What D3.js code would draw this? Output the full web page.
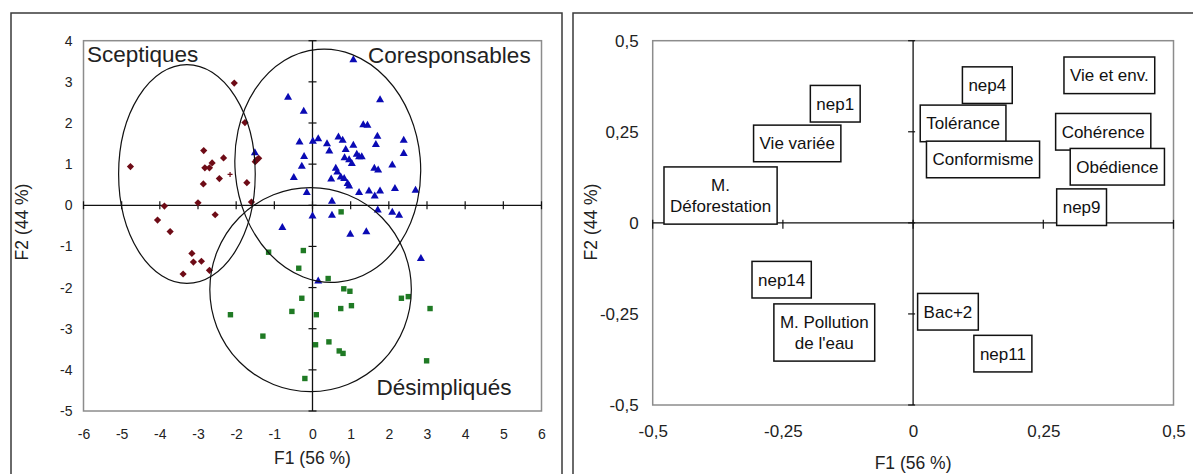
<!DOCTYPE html>
<html>
<head>
<meta charset="utf-8">
<script src="https://cdn.jsdelivr.net/npm/d3@7"></script>
<style>
  body { margin: 0; background: #fff; }
  svg { display: block; font-family: "Liberation Sans", Arial, sans-serif; }
</style>
</head>
<body>
<svg id="chart" width="1193" height="474"></svg>
<script>
// ---- left panel: individuals on F1/F2 ----
const sceptiques = [[-2.05,2.97],[-1.77,2.01],[-4.77,0.94],[-2.85,1.33],[-2.33,1.15],[-2.63,1.03],
  [-2.82,0.91],[-2.70,0.91],[-2.44,0.65],[-2.86,0.52],[-1.72,0.55],[-1.50,1.06],[-1.47,1.10],
  [-1.41,1.14],[-3.00,0.06],[-3.88,-0.02],[-1.60,0.08],[-2.55,-0.23],[-4.06,-0.36],[-3.73,-0.64],
  [-3.16,-1.17],[-3.12,-1.38],[-2.91,-1.36],[-3.39,-1.67],[-2.70,-1.58]];
const sceptiquesSmall = [[-2.16,0.75]];

const coresponsables = [[1.07,3.55],[-0.64,2.64],[1.77,2.58],[-0.23,2.30],[1.33,1.97],[1.44,1.96],
  [-0.34,1.55],[0.01,1.57],[0.15,1.63],[0.38,1.51],[0.44,1.33],[0.68,1.67],[0.79,1.59],[1.07,1.47],
  [0.87,1.37],[1.70,1.69],[1.66,1.49],[2.39,1.59],[2.39,1.27],[-0.22,1.20],[-0.28,0.96],[0.84,1.17],
  [0.96,1.12],[1.16,1.25],[1.22,1.19],[1.29,1.19],[1.03,1.03],[0.61,0.91],[0.65,0.82],[1.62,0.91],
  [1.72,0.87],[2.09,0.99],[-0.49,0.69],[0.49,0.65],[0.74,0.70],[0.83,0.66],[0.92,0.54],[0.96,0.48],
  [-0.15,0.32],[1.22,0.32],[1.48,0.36],[1.63,0.24],[1.77,0.36],[2.16,0.42],[2.70,0.38],[0.51,0.11],
  [1.71,-0.10],[2.09,-0.16],[2.27,-0.23],[0.00,-0.25],[0.51,-0.23],[-0.79,-0.53],[0.99,-0.69],
  [1.41,-0.63],[2.84,-1.28],[0.15,-1.83],[-1.51,1.29]];

const desimpliques = [[0.75,-0.16],[-1.15,-1.14],[-0.24,-1.10],[-0.36,-1.53],[0.41,-1.78],[0.82,-2.03],
  [0.98,-2.09],[-0.28,-2.26],[-0.54,-2.58],[-2.15,-2.66],[0.10,-2.66],[0.74,-2.51],[1.02,-2.44],
  [2.33,-2.26],[2.51,-2.22],[3.08,-2.51],[-1.30,-3.18],[0.08,-3.39],[0.43,-3.32],[0.70,-3.54],
  [0.80,-3.60],[2.99,-3.78],[-0.20,-4.21]];

// ellipses: centre x, centre y, half-width, half-height (data units), tilt in degrees
const ellipses = [[-3.29,0.76,1.79,2.66,0],[0.40,0.96,2.43,2.84,-5],[-0.05,-2.05,2.64,2.48,0]];
const groupNames = ["Sceptiques","Coresponsables","Désimpliqués"];
const groupLabelAt = [[-5.91,3.48],[1.455,3.46],[1.675,-4.61]];

const leftXTicks = d3.range(-6, 7);
const leftYTicks = d3.range(-5, 5);

// ---- right panel: variables ----
const varNames = ["nep1","Vie variée","M.\nDéforestation","nep4","Tolérance","Conformisme",
  "Vie et env.","Cohérence","Obédience","nep9","nep14","M. Pollution\nde l'eau","Bac+2","nep11"];
const varF1 = [-0.205,-0.314,-0.486,0.087,0.006,0.018,0.282,0.266,0.294,0.268,-0.317,-0.275,0.001,0.109];
const varF2 = [0.327,0.218,0.075,0.378,0.273,0.174,0.405,0.250,0.154,0.043,-0.156,-0.301,-0.244,-0.359];

const rightTicks = [-0.5,-0.25,0,0.25,0.5];
const axisTitleX = "F1 (56 %)";
const axisTitleY = "F2 (44 %)";

const svg = d3.select("#chart");

// panel frames
svg.append("rect").attr("x", 11).attr("y", 13).attr("width", 551).attr("height", 480)
   .attr("fill", "none").attr("stroke", "#3a3a3a").attr("stroke-width", 1.5);
svg.append("rect").attr("x", 573).attr("y", 13).attr("width", 640).attr("height", 480)
   .attr("fill", "none").attr("stroke", "#3a3a3a").attr("stroke-width", 1.5);

function styleAxis(g, size) {
  g.select(".domain").remove();
  g.selectAll("text").attr("font-family", "Liberation Sans, Arial, sans-serif")
   .attr("font-size", size).attr("fill", "#222");
}

// ================= LEFT =================
const xL = d3.scaleLinear().domain([-6, 6]).range([83.5, 541.5]);
const yL = d3.scaleLinear().domain([-5, 4]).range([411, 40.7]);

svg.append("rect").attr("x", xL(-6)).attr("y", yL(4))
   .attr("width", xL(6) - xL(-6)).attr("height", yL(-5) - yL(4))
   .attr("fill", "#fff").attr("stroke", "#8c8c8c").attr("stroke-width", 1.5);

// tick labels
svg.append("g").attr("transform", `translate(0,${yL(-5)})`)
   .call(d3.axisBottom(xL).tickValues(leftXTicks).tickSize(0).tickPadding(18).tickFormat(d => String(d)))
   .call(g => styleAxis(g, 14));
svg.append("g").attr("transform", `translate(${xL(-6)},0)`)
   .call(d3.axisLeft(yL).tickValues(leftYTicks).tickSize(0).tickPadding(11).tickFormat(d => String(d)))
   .call(g => styleAxis(g, 14));

// axis lines through origin with crossing ticks
svg.append("line").attr("x1", xL(-6)).attr("x2", xL(6)).attr("y1", yL(0)).attr("y2", yL(0))
   .attr("stroke", "#111").attr("stroke-width", 1.3);
svg.append("line").attr("x1", xL(0)).attr("x2", xL(0)).attr("y1", yL(4)).attr("y2", yL(-5))
   .attr("stroke", "#111").attr("stroke-width", 1.3);
svg.append("g").selectAll("line").data(leftXTicks).join("line")
   .attr("x1", d => xL(d)).attr("x2", d => xL(d)).attr("y1", yL(0) - 4).attr("y2", yL(0) + 4)
   .attr("stroke", "#111").attr("stroke-width", 1.2);
svg.append("g").selectAll("line").data(leftYTicks).join("line")
   .attr("y1", d => yL(d)).attr("y2", d => yL(d)).attr("x1", xL(0) - 4).attr("x2", xL(0) + 4)
   .attr("stroke", "#111").attr("stroke-width", 1.2);

// points
svg.append("g").selectAll("path").data(sceptiques).join("path")
   .attr("transform", d => `translate(${xL(d[0])},${yL(d[1])})`)
   .attr("d", "M0,-3.6L3.6,0L0,3.6L-3.6,0Z").attr("fill", "#6e0b16");
svg.append("g").selectAll("path").data(sceptiquesSmall).join("path")
   .attr("transform", d => `translate(${xL(d[0])},${yL(d[1])})`)
   .attr("d", "M-2.5,0H2.5M0,-2.5V2.5").attr("stroke", "#6e0b16").attr("stroke-width", 1.2);
svg.append("g").selectAll("path").data(coresponsables).join("path")
   .attr("transform", d => `translate(${xL(d[0])},${yL(d[1])})`)
   .attr("d", "M0,-4L4,3L-4,3Z").attr("fill", "#0a0ab4");
svg.append("g").selectAll("rect").data(desimpliques).join("rect")
   .attr("x", d => xL(d[0]) - 2.7).attr("y", d => yL(d[1]) - 2.7)
   .attr("width", 5.4).attr("height", 5.4).attr("fill", "#1f7a24");

// ellipses
const kx = xL(1) - xL(0), ky = yL(0) - yL(1);
svg.append("g").selectAll("ellipse").data(ellipses).join("ellipse")
   .attr("transform", d => `translate(${xL(d[0])},${yL(d[1])}) rotate(${d[4]})`)
   .attr("rx", d => d[2] * kx).attr("ry", d => d[3] * ky)
   .attr("fill", "none").attr("stroke", "#111").attr("stroke-width", 1.2);

// group names
svg.append("g").selectAll("text").data(groupNames).join("text")
   .attr("x", (d, i) => xL(groupLabelAt[i][0])).attr("y", (d, i) => yL(groupLabelAt[i][1]))
   .attr("font-size", 22.5).attr("fill", "#222").text(d => d);

// axis titles
svg.append("text").attr("x", xL(0)).attr("y", 464).attr("text-anchor", "middle")
   .attr("font-size", 17.5).attr("fill", "#222").text(axisTitleX);
svg.append("text").attr("transform", `translate(28,222) rotate(-90)`).attr("text-anchor", "middle")
   .attr("font-size", 17.5).attr("fill", "#222").text(axisTitleY);

// ================= RIGHT =================
const xR = d3.scaleLinear().domain([-0.5, 0.5]).range([652.7, 1173.5]);
const yR = d3.scaleLinear().domain([-0.5, 0.5]).range([405, 40.7]);
const comma = d => String(d).replace(".", ",");

svg.append("rect").attr("x", xR(-0.5)).attr("y", yR(0.5))
   .attr("width", xR(0.5) - xR(-0.5)).attr("height", yR(-0.5) - yR(0.5))
   .attr("fill", "#fff").attr("stroke", "#8c8c8c").attr("stroke-width", 1.5);

svg.append("g").attr("transform", `translate(0,${yR(-0.5)})`)
   .call(d3.axisBottom(xR).tickValues(rightTicks).tickSize(0).tickPadding(20).tickFormat(comma))
   .call(g => styleAxis(g, 17));
svg.append("g").attr("transform", `translate(${xR(-0.5)},0)`)
   .call(d3.axisLeft(yR).tickValues(rightTicks).tickSize(0).tickPadding(14).tickFormat(comma))
   .call(g => styleAxis(g, 17));

svg.append("line").attr("x1", xR(-0.5)).attr("x2", xR(0.5)).attr("y1", yR(0)).attr("y2", yR(0))
   .attr("stroke", "#111").attr("stroke-width", 1.3);
svg.append("line").attr("x1", xR(0)).attr("x2", xR(0)).attr("y1", yR(0.5)).attr("y2", yR(-0.5))
   .attr("stroke", "#111").attr("stroke-width", 1.3);
svg.append("g").selectAll("line").data(rightTicks).join("line")
   .attr("x1", d => xR(d)).attr("x2", d => xR(d)).attr("y1", yR(0) - 3).attr("y2", yR(0) + 6)
   .attr("stroke", "#111").attr("stroke-width", 1.2);
svg.append("g").selectAll("line").data(rightTicks).join("line")
   .attr("y1", d => yR(d)).attr("y2", d => yR(d)).attr("x1", xR(0) - 5).attr("x2", xR(0) + 2)
   .attr("stroke", "#111").attr("stroke-width", 1.2);

// variable labels, boxed, to the right of each point
const lineH = 20.6;
const labels = svg.append("g").selectAll("g").data(varNames).join("g")
   .attr("transform", (d, i) => `translate(${xR(varF1[i]) + 4},${yR(varF2[i])})`);
labels.each(function(d) {
  const g = d3.select(this);
  const lines = d.split("\n");
  const box = g.append("rect");
  const txt = g.append("text").attr("font-size", 17).attr("fill", "#111").attr("text-anchor", "middle");
  lines.forEach((l, j) => {
    txt.append("tspan").attr("x", 0)
       .attr("y", (j - (lines.length - 1) / 2) * lineH).attr("dy", "0.35em").text(l);
  });
  let w = 0;
  txt.selectAll("tspan").each(function() { w = Math.max(w, this.getComputedTextLength()); });
  const bw = w + 12, bh = lines.length * lineH + 16;
  txt.attr("transform", `translate(${bw / 2},0)`);
  box.attr("x", 0).attr("y", -bh / 2).attr("width", bw).attr("height", bh)
     .attr("fill", "#fff").attr("stroke", "#111").attr("stroke-width", 1.5);
});

svg.append("text").attr("x", xR(0)).attr("y", 469).attr("text-anchor", "middle")
   .attr("font-size", 17.5).attr("fill", "#222").text(axisTitleX);
svg.append("text").attr("transform", `translate(597,222) rotate(-90)`).attr("text-anchor", "middle")
   .attr("font-size", 17.5).attr("fill", "#222").text(axisTitleY);
</script>
</body>
</html>
